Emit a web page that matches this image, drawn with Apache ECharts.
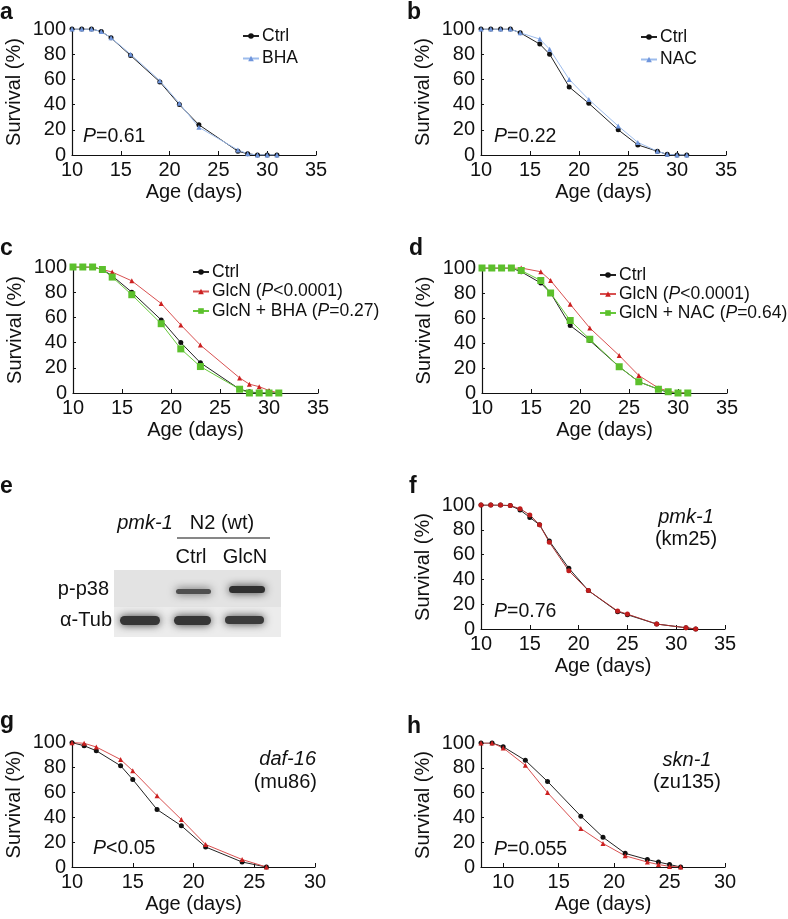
<!DOCTYPE html>
<html><head><meta charset="utf-8">
<script src="https://cdn.jsdelivr.net/npm/echarts@6/dist/echarts.min.js"></script>
<style>html,body{margin:0;padding:0;background:#fff}#c{width:788px;height:919px}</style>
</head><body><div id="c"></div>
<script>
// ---- data ----
const aAge = [10,11,12,13,14,16,19,21,23,27,28,29,30,31];
const aCtrl = [100,100,100,98,93,79,58,40,24,3,1,0,0,0];
const aBHA = [100,100,100,98,93,80,59,41,22,4,1,0,0,0];

const bAge = [10,11,12,13,14,16,17,19,21,24,26,28,29,30,31];
const bCtrl = [100,100,100,100,97,88,80,54,41,20,8,3,0.5,0,0];
const bNAC = [100,100,100,100,97,92,84,60,44,23,10,3,0.5,0,0];

const cAge = [10,11,12,13,14,16,19,21,23,27,28,29,30,31];
const cCtrl = [100,100,100,98,93,80,58,40,24,3,1,0,0,0];
const cGlcN = [100,100,100,98,96,89,71,54,38,12,7,5,2,0];
const cGlcNBHA = [100,100,100,98,92,78,55,35,21,3,0,0,0,0];

const dAge = [10,11,12,13,14,16,17,19,21,24,26,28,29,30,31];
const dCtrl = [100,100,100,100,97,88,80,54,42,21,9,3,0.5,0,0];
const dGlcN = [100,100,100,100,100,97,90,71,52,30,14,4,1.5,0,0];
const dGlcNNAC = [100,100,100,100,98,90,80,58,43,21,9,3,1,0,0];

const fAge = [10,11,12,13,14,15,16,17,19,21,24,25,28,31,32];
const fCtrl = [100,100,100,99.5,96,90,84,71,49,31,14,11.5,4,1,0];
const fGlcN = [100,100,100,99.5,97,92,84,70,47,31,14.5,12,4,1,0];

const gAge = [10,11,12,14,15,17,19,21,24,26];
const gCtrl = [99.5,97,93,81,70,46,33,16,4,0];
const gGlcN = [99.5,99,96,86,77,57,38,18,6,0];

const hAge = [8,9,10,12,14,17,19,21,23,24,25,26];
const hCtrl = [100,100,97,86,69,41,24,11,6,4,2,0];
const hGlcN = [100,100,96,82,60,31,19,9,4,2,0.5,0];

const yTicks = [0,20,40,60,80,100];
const hXTicks = [10,15,20,25,30];

// ---- styles ----
const FONT = '"Liberation Sans", Arial, Helvetica, sans-serif';
const TXT = '#111';
const FS = 20;
const BLACK = {line:'#222', mark:'#111', sym:'circle', size:5};
const BLUE = {line:'#9dbcec', mark:'#6f95dc', sym:'triangle', size:5};
const RED = {line:'#d85050', mark:'#cc2020', sym:'triangle', size:5};
const GREEN = {line:'#66c83a', mark:'#5cc02c', sym:'rect', size:7};
const DRED = {line:'#a83030', mark:'#c01c1c', sym:'circle', size:5};

const grids = [
  {left:72, top:29, width:244, height:126},   // a
  {left:481, top:29, width:245, height:126},  // b
  {left:73, top:267, width:245, height:126},  // c
  {left:482, top:268, width:245, height:125}, // d
  {left:481, top:505, width:244, height:124}, // f
  {left:72, top:742, width:243, height:125},  // g
  {left:481, top:743, width:244, height:124}  // h
];
const xRanges = [[10,35],[10,35],[10,35],[10,35],[10,35],[10,30],[8,30]];

const axisLineStyle = {show:true, lineStyle:{color:'#111', width:1.2}};
const xAxes = grids.map((g,i)=>{
  const ax = {
    type:'value', gridIndex:i, min:xRanges[i][0], max:xRanges[i][1], interval:5,
    axisLine:axisLineStyle,
    axisTick:{show:true, inside:true, length:4, lineStyle:{color:'#111'}},
    splitLine:{show:false},
    axisLabel:{color:TXT, fontSize:FS, fontFamily:FONT, margin:5, showMinLabel:true, showMaxLabel:true},
    name:'Age (days)', nameLocation:'middle', nameGap:27,
    nameTextStyle:{color:TXT, fontSize:FS, fontFamily:FONT}
  };
  if (i===6) {
    ax.axisLabel.customValues = hXTicks;
    ax.axisTick.customValues = hXTicks;
  }
  return ax;
});
const yAxes = grids.map((g,i)=>({
  type:'value', gridIndex:i, min:0, max:100, interval:20,
  axisLine:axisLineStyle,
  axisTick:{show:true, inside:true, length:3, lineStyle:{color:'#111'}},
  splitLine:{show:false},
  axisLabel:{color:TXT, fontSize:FS, fontFamily:FONT, margin:6},
  name:'Survival (%)', nameLocation:'middle', nameGap:48,
  nameTextStyle:{color:TXT, fontSize:FS, fontFamily:FONT}
}));

function mk(name, ages, vals, gi, st){
  return {
    type:'line', name:name, xAxisIndex:gi, yAxisIndex:gi,
    data: ages.map((a,k)=>[a, vals[k]]),
    symbol:st.sym, symbolSize:st.size, showSymbol:true,
    lineStyle:{color:st.line, width:1},
    itemStyle:{color:st.mark},
    emphasis:{disabled:true}, animation:false
  };
}

const series = [
  mk('Ctrl', aAge, aCtrl, 0, BLACK), mk('BHA', aAge, aBHA, 0, BLUE),
  mk('Ctrl', bAge, bCtrl, 1, BLACK), mk('NAC', bAge, bNAC, 1, BLUE),
  mk('Ctrl', cAge, cCtrl, 2, BLACK), mk('GlcN (P<0.0001)', cAge, cGlcN, 2, RED), mk('GlcN + BHA (P=0.27)', cAge, cGlcNBHA, 2, GREEN),
  mk('Ctrl', dAge, dCtrl, 3, BLACK), mk('GlcN (P<0.0001)', dAge, dGlcN, 3, RED), mk('GlcN + NAC (P=0.64)', dAge, dGlcNNAC, 3, GREEN),
  mk('Ctrl', fAge, fCtrl, 4, BLACK), mk('pmk-1 GlcN', fAge, fGlcN, 4, DRED),
  mk('Ctrl', gAge, gCtrl, 5, BLACK), mk('daf-16 GlcN', gAge, gGlcN, 5, RED),
  mk('Ctrl', hAge, hCtrl, 6, BLACK), mk('skn-1 GlcN', hAge, hGlcN, 6, RED)
];

function legend(data, left, top, gap){
  return {
    data:data, left:left, top:top, orient:'vertical', itemGap:gap,
    itemWidth:16, itemHeight:7, selectedMode:false, padding:0,
    textStyle:{color:TXT, fontSize:17.5, fontFamily:FONT, padding:[0,0,0,-2],
      rich:{i:{fontStyle:'italic', fontSize:17.5, fontFamily:FONT, color:TXT}}},
    formatter:function(n){ return n.replace(/P([<=])/, '{i|P}$1'); }
  };
}
const legends = [
  legend(['Ctrl','BHA'], 242, 27, 4.5),
  legend(['Ctrl','NAC'], 640, 28, 4.5),
  legend(['Ctrl','GlcN (P<0.0001)','GlcN + BHA (P=0.27)'], 192, 263, 1.5),
  legend(['Ctrl','GlcN (P<0.0001)','GlcN + NAC (P=0.64)'], 599, 266, 1)
];

function txt(x, y, text, opts){
  return Object.assign({type:'text', x:x, y:y, silent:true,
    style:Object.assign({text:text, fill:TXT, font:FS+'px '+FONT, textVerticalAlign:'middle'}, opts||{})});
}
function ptxt(x, y, rest){
  return {type:'text', x:x, y:y, silent:true, style:{
    text:'{i|P}{n|'+rest+'}', textVerticalAlign:'middle',
    rich:{i:{fontStyle:'italic', fontSize:19.5, fontFamily:FONT, fill:TXT},
          n:{fontSize:19.5, fontFamily:FONT, fill:TXT}}}};
}
const boldL = (x,y,t)=>txt(x,y,t,{font:'bold 23px '+FONT});
const band = (x,y,w,h,c)=>({type:'rect', silent:true, shape:{x:x,y:y,width:w,height:h,r:h/2},
  style:{fill:c, shadowBlur:8, shadowColor:c}});
const graphics = [
  boldL(0,13,'a'), boldL(407,13,'b'), boldL(0,249,'c'), boldL(409,249,'d'),
  boldL(0,487,'e'), boldL(409,487,'f'), boldL(0,722,'g'), boldL(407,727,'h'),
  ptxt(83,137,'=0.61'), ptxt(494,137,'=0.22'), ptxt(494,612,'=0.76'),
  ptxt(93,849,'<0.05'), ptxt(494,850,'=0.055'),
  txt(686,517,'pmk-1',{font:'italic '+FS+'px '+FONT, textAlign:'center'}),
  txt(686,539,'(km25)',{textAlign:'center'}),
  txt(316,759,'daf-16',{font:'italic '+FS+'px '+FONT, textAlign:'right'}),
  txt(317,782,'(mu86)',{textAlign:'right'}),
  txt(687,760,'skn-1',{font:'italic '+FS+'px '+FONT, textAlign:'center'}),
  txt(687,782,'(zu135)',{textAlign:'center'}),
  // panel e: western blot
  txt(145,523,'pmk-1',{font:'italic '+FS+'px '+FONT, textAlign:'center'}),
  txt(222,523,'N2 (wt)',{textAlign:'center'}),
  {type:'line', silent:true, shape:{x1:177,y1:538,x2:270,y2:538}, style:{stroke:'#111', lineWidth:1.2}},
  txt(191,557,'Ctrl',{textAlign:'center'}),
  txt(245,557,'GlcN',{textAlign:'center'}),
  txt(109,589,'p-p38',{textAlign:'right'}),
  txt(112,620,'\u03b1-Tub',{textAlign:'right'}),
  {type:'rect', silent:true, shape:{x:114,y:570,width:167,height:37}, style:{fill:'#e3e3e3'}},
  {type:'rect', silent:true, shape:{x:114,y:607,width:167,height:30}, style:{fill:'#ececec'}},
  band(176,589,35,5,'#505050'),
  band(229,586,36,7,'#303030'),
  band(120,616,40,9,'#363636'),
  band(174,616,37,9,'#363636'),
  band(225,616,39,8,'#3a3a3a')
];

const chart = echarts.init(document.getElementById('c'), null, {renderer:'canvas'});
chart.setOption({
  backgroundColor:'#fff', animation:false,
  textStyle:{fontFamily:FONT},
  grid:grids, xAxis:xAxes, yAxis:yAxes, series:series, legend:legends,
  graphic:graphics
});
</script></body></html>
